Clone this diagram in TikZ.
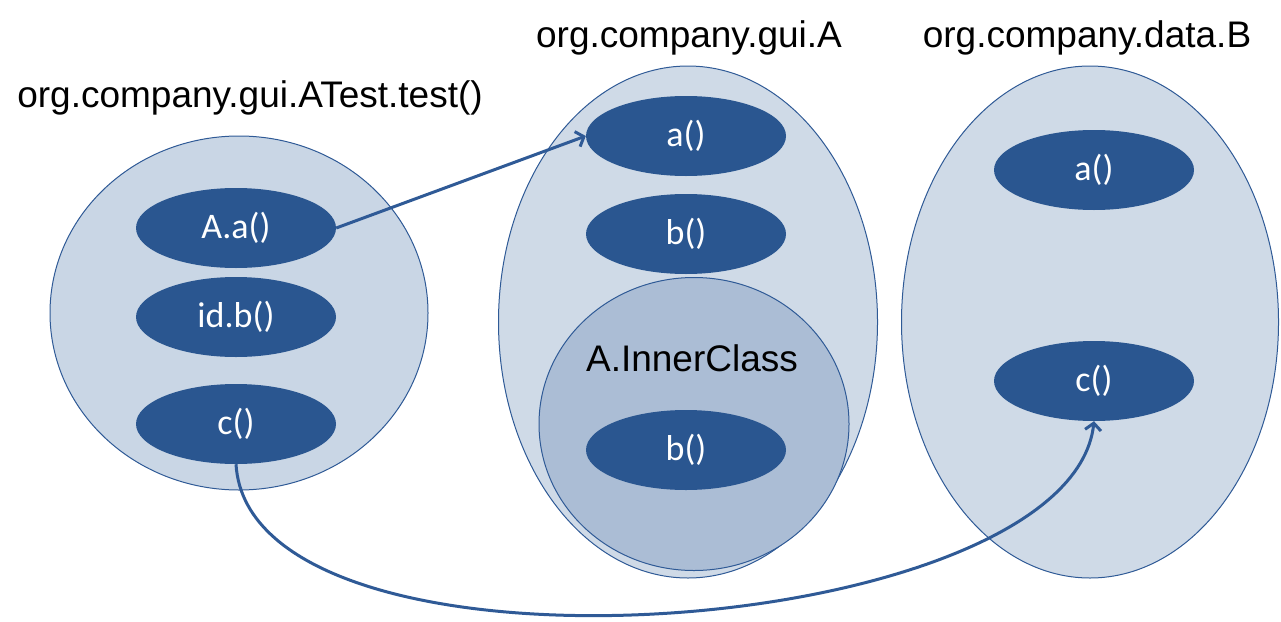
\documentclass[tikz,border=0pt]{standalone}
\usepackage{fontspec}
\setmainfont{Liberation Sans}
\newfontfamily\calfont{Carlito}
\usetikzlibrary{shapes.geometric,arrows.meta}
\definecolor{outerfill}{HTML}{CFDAE7}
\definecolor{leftfill}{HTML}{C9D6E5}
\definecolor{innerfill}{HTML}{ABBDD5}
\definecolor{methfill}{HTML}{2A5690}
\definecolor{edgecol}{HTML}{2F5A96}
\tikzset{
  container/.style={ellipse, draw=edgecol, line width=1pt, fill=outerfill, inner sep=0pt},
  method/.style={ellipse, fill=methfill, draw=none, minimum width=200pt, minimum height=80pt, inner sep=0pt, text=white, font=\calfont\fontsize{36}{40}\selectfont},
  title/.style={font=\fontsize{37}{44}\selectfont, text=black, inner sep=0pt},
  conn/.style={draw=edgecol, line width=3pt, -{Straight Barb[length=7pt,width=16pt]}}
}
\begin{document}
\begin{tikzpicture}[x=1pt,y=-1pt]
\useasboundingbox (0,0) rectangle (1281,621);
% containers
\node[container, fill=leftfill, minimum width=378pt, minimum height=354pt] (left) at (239,313) {};
\node[container, minimum width=379pt, minimum height=512pt] (mid) at (688,322) {};
\node[container, minimum width=377pt, minimum height=512pt] (right) at (1090,322) {};
\node[container, fill=innerfill, minimum width=310pt, minimum height=293pt] (inner) at (694,424) {};
% titles
\node[title, anchor=base] (tleft) at (250,107) {org.company.gui.ATest.test()};
\node[title, anchor=base] (tmid) at (689,47) {org.company.gui.A};
\node[title, anchor=base] (tright) at (1087,47) {org.company.data.B};
\node[title, anchor=base] (tinner) at (692,371) {A.InnerClass};
% methods
\node[method] (Aa) at (236,228) {A.a()};
\node[method] (idb) at (236,317) {id.b()};
\node[method] (lc) at (236,424) {c()};
\node[method] (ma) at (686,136) {a()};
\node[method] (mb) at (686,234) {b()};
\node[method] (ib) at (686,450) {b()};
\node[method] (ra) at (1094,170) {a()};
\node[method] (rc) at (1094,381) {c()};
% connectors
\draw[conn] (Aa.east) -- (ma.west);
\draw[conn] (lc.south) .. controls (250,700) and (1070,640) .. (rc.south);
\end{tikzpicture}
\end{document}
